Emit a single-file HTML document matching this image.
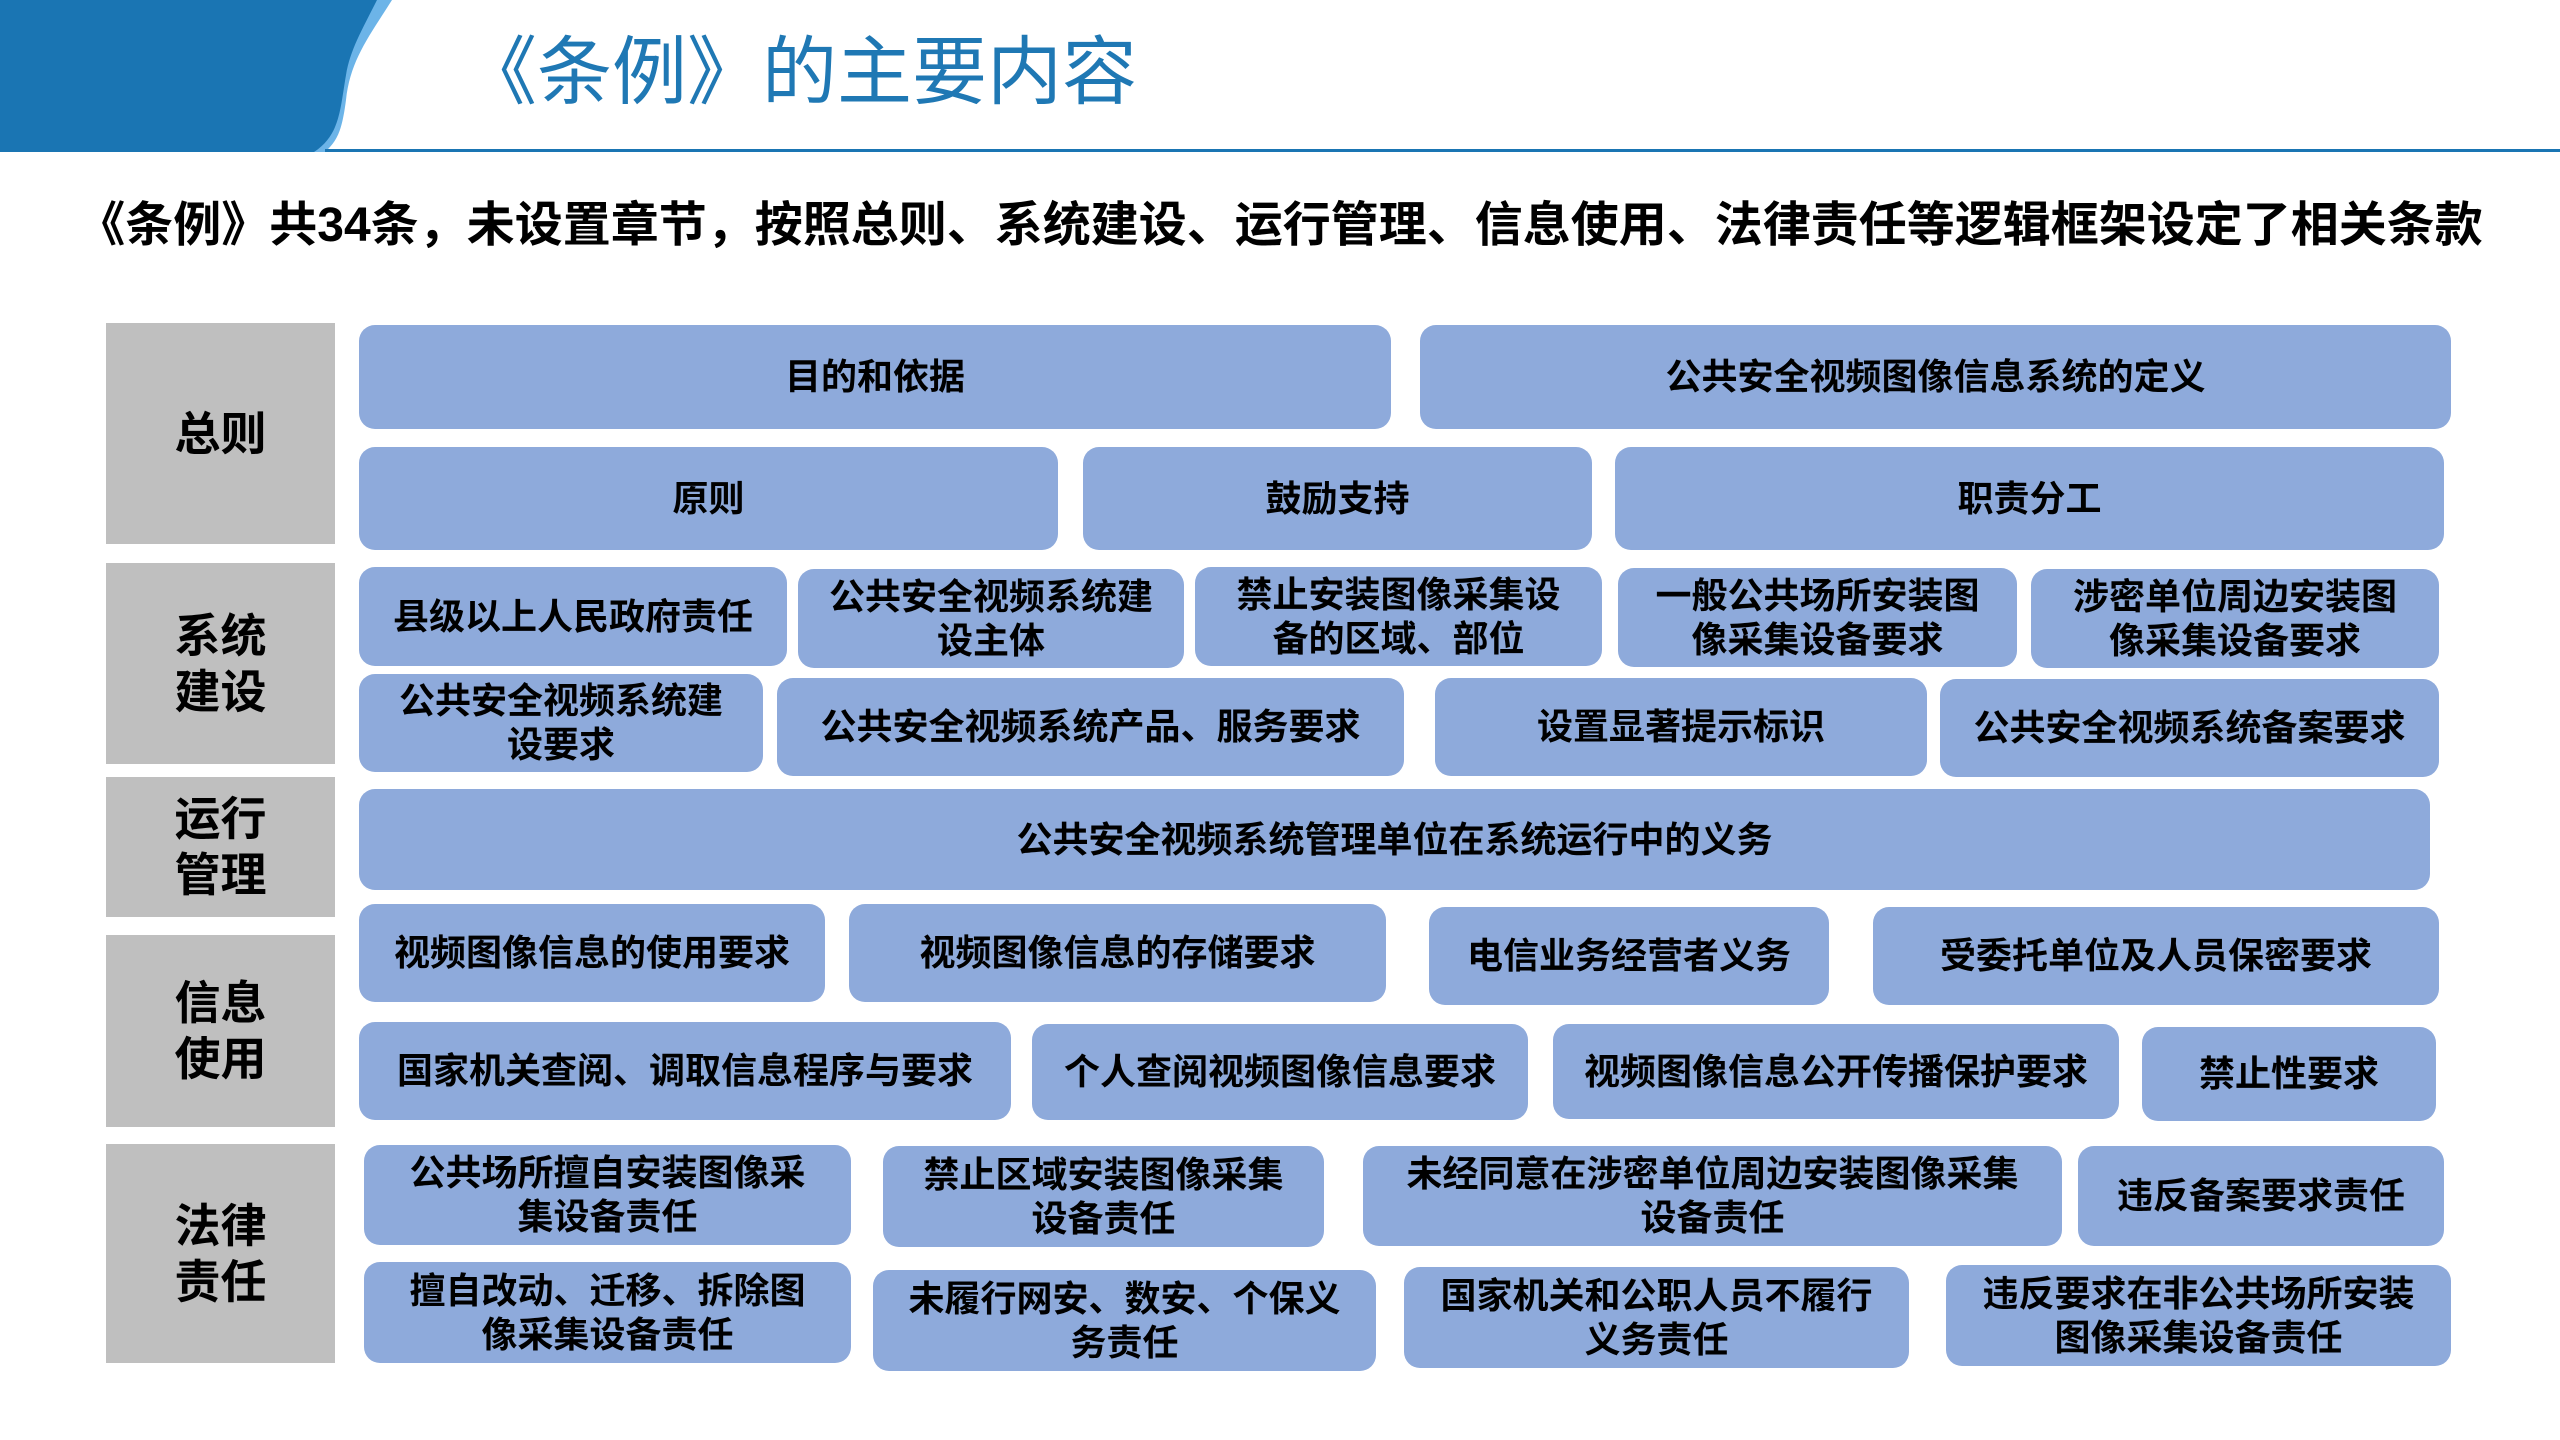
<!DOCTYPE html>
<html><head><meta charset="utf-8">
<style>
*{margin:0;padding:0;box-sizing:border-box}
body{width:2560px;height:1440px;background:#fff;position:relative;overflow:hidden;font-family:"Liberation Sans","Noto Sans CJK SC",sans-serif}
.t{position:absolute;left:462px;top:22px;font-size:75px;color:#1f78b4;white-space:nowrap;line-height:100px}
.s{position:absolute;left:60px;top:196px;width:2440px;font-size:48px;font-weight:bold;color:#000;white-space:nowrap;line-height:60px;text-align:center}
.g{position:absolute;left:106px;width:229px;background:#bfbfbf;display:flex;align-items:center;justify-content:center;text-align:center;font-size:46px;font-weight:bold;line-height:56px;color:#000}
.b{position:absolute;background:#8eaadb;border-radius:16px;display:flex;align-items:center;justify-content:center;text-align:center;font-size:36px;font-weight:bold;line-height:44px;color:#000;white-space:nowrap}
</style></head><body>
<svg width="2560" height="160" style="position:absolute;left:0;top:0">
<path d="M0 0 L392 0 C370 35 350 60 346 100 C342 130 338 140 325 152 L300 152 L0 152 Z" fill="#6cb4e8"/>
<path d="M0 0 L377 0 C362 30 350 50 346 75 C340 110 340 135 314 152 L0 152 Z" fill="#1a75b3"/>
<rect x="325" y="149" width="2235" height="3" fill="#1a75b3"/>
</svg>
<div class="t">《条例》的主要内容</div>
<div class="s">《条例》共34条，未设置章节，按照总则、系统建设、运行管理、信息使用、法律责任等逻辑框架设定了相关条款</div>

<div class="g" style="top:323px;height:221px">总则</div>
<div class="g" style="top:563px;height:201px">系统<br>建设</div>
<div class="g" style="top:777px;height:140px">运行<br>管理</div>
<div class="g" style="top:935px;height:192px">信息<br>使用</div>
<div class="g" style="top:1144px;height:219px">法律<br>责任</div>

<div class="b" style="left:359px;width:1032px;top:325px;height:104px">目的和依据</div>
<div class="b" style="left:1420px;width:1031px;top:325px;height:104px">公共安全视频图像信息系统的定义</div>
<div class="b" style="left:359px;width:699px;top:447px;height:103px">原则</div>
<div class="b" style="left:1083px;width:509px;top:447px;height:103px">鼓励支持</div>
<div class="b" style="left:1615px;width:829px;top:447px;height:103px">职责分工</div>

<div class="b" style="left:359px;width:428px;top:567px;height:99px">县级以上人民政府责任</div>
<div class="b" style="left:798px;width:386px;top:569px;height:99px">公共安全视频系统建<br>设主体</div>
<div class="b" style="left:1195px;width:407px;top:567px;height:99px">禁止安装图像采集设<br>备的区域、部位</div>
<div class="b" style="left:1618px;width:399px;top:568px;height:99px">一般公共场所安装图<br>像采集设备要求</div>
<div class="b" style="left:2031px;width:408px;top:569px;height:99px">涉密单位周边安装图<br>像采集设备要求</div>
<div class="b" style="left:359px;width:404px;top:674px;height:98px">公共安全视频系统建<br>设要求</div>
<div class="b" style="left:777px;width:627px;top:678px;height:98px">公共安全视频系统产品、服务要求</div>
<div class="b" style="left:1435px;width:492px;top:678px;height:98px">设置显著提示标识</div>
<div class="b" style="left:1940px;width:499px;top:679px;height:98px">公共安全视频系统备案要求</div>

<div class="b" style="left:359px;width:2071px;top:789px;height:101px">公共安全视频系统管理单位在系统运行中的义务</div>

<div class="b" style="left:359px;width:466px;top:904px;height:98px">视频图像信息的使用要求</div>
<div class="b" style="left:849px;width:537px;top:904px;height:98px">视频图像信息的存储要求</div>
<div class="b" style="left:1429px;width:400px;top:907px;height:98px">电信业务经营者义务</div>
<div class="b" style="left:1873px;width:566px;top:907px;height:98px">受委托单位及人员保密要求</div>
<div class="b" style="left:359px;width:652px;top:1022px;height:98px">国家机关查阅、调取信息程序与要求</div>
<div class="b" style="left:1032px;width:496px;top:1024px;height:96px">个人查阅视频图像信息要求</div>
<div class="b" style="left:1553px;width:566px;top:1024px;height:95px">视频图像信息公开传播保护要求</div>
<div class="b" style="left:2142px;width:294px;top:1027px;height:94px">禁止性要求</div>

<div class="b" style="left:364px;width:487px;top:1145px;height:100px">公共场所擅自安装图像采<br>集设备责任</div>
<div class="b" style="left:883px;width:441px;top:1146px;height:101px">禁止区域安装图像采集<br>设备责任</div>
<div class="b" style="left:1363px;width:699px;top:1146px;height:100px">未经同意在涉密单位周边安装图像采集<br>设备责任</div>
<div class="b" style="left:2078px;width:366px;top:1146px;height:100px">违反备案要求责任</div>
<div class="b" style="left:364px;width:487px;top:1262px;height:101px">擅自改动、迁移、拆除图<br>像采集设备责任</div>
<div class="b" style="left:873px;width:503px;top:1270px;height:101px">未履行网安、数安、个保义<br>务责任</div>
<div class="b" style="left:1404px;width:505px;top:1267px;height:101px">国家机关和公职人员不履行<br>义务责任</div>
<div class="b" style="left:1946px;width:505px;top:1265px;height:101px">违反要求在非公共场所安装<br>图像采集设备责任</div>
</body></html>
